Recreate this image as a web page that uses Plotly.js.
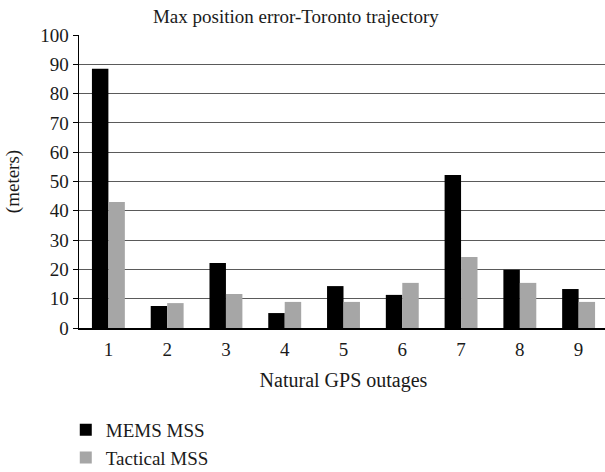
<!DOCTYPE html>
<html>
<head>
<meta charset="utf-8">
<script src="https://cdn.plot.ly/plotly-3.0.1.min.js"></script>
<style>
html, body { margin: 0; padding: 0; overflow: hidden; background: #fff; }
#chart { width: 610px; height: 472px; }
</style>
</head>
<body>
<div id="chart"></div>
<script>
const categories = ['1', '2', '3', '4', '5', '6', '7', '8', '9'];
const memsMSS = [88.5, 7.5, 22.2, 5.1, 14.3, 11.3, 52.2, 19.9, 13.3];
const tacticalMSS = [43.0, 8.5, 11.6, 8.9, 8.9, 15.4, 24.2, 15.4, 8.9];
const yTicks = [0, 10, 20, 30, 40, 50, 60, 70, 80, 90, 100];

const FONT = "'Liberation Serif', 'Times New Roman', serif";
const TXT = '#1a1a1a';

const traces = [
  { type: 'bar', name: 'MEMS MSS', x: categories, y: memsMSS,
    marker: { color: '#000000', line: { width: 0 } }, legendgroup: 'a' },
  { type: 'bar', name: 'Tactical MSS', x: categories, y: tacticalMSS,
    marker: { color: '#a6a6a6', line: { width: 0 } }, legendgroup: 'b' }
];

const layout = {
  width: 610, height: 472,
  margin: { l: 79, r: 2, t: 35, b: 144, pad: 0, autoexpand: false },
  paper_bgcolor: '#ffffff', plot_bgcolor: '#ffffff',
  font: { family: FONT, size: 19, color: TXT },
  title: { text: 'Max position error-Toronto trajectory', x: 0.485, xanchor: 'center', y: 0.966, yanchor: 'middle',
           font: { family: FONT, size: 19, color: TXT } },
  barmode: 'group', bargap: 0.44, bargroupgap: 0,
  showlegend: true,
  legend: { orientation: 'v', xref: 'paper', yref: 'paper', x: -0.025, xanchor: 'left', y: -0.283, yanchor: 'top',
            traceorder: 'grouped', tracegroupgap: 0, font: { family: FONT, size: 19, color: TXT },
            bgcolor: 'rgba(0,0,0,0)' },
  xaxis: {
    type: 'category', showgrid: false, showline: true, linecolor: '#000', linewidth: 1.5,
    ticks: 'outside', ticklen: 4, tickcolor: 'rgba(0,0,0,0)',
    tickfont: { family: FONT, size: 19, color: TXT }, automargin: false,
    title: { text: 'Natural GPS outages', standoff: 13, font: { family: FONT, size: 20, color: TXT } },
    zeroline: false, fixedrange: true
  },
  yaxis: {
    range: [0, 100], tickvals: yTicks, ticktext: yTicks.map(String), automargin: false,
    showgrid: true, gridcolor: '#5a5a5a', gridwidth: 1,
    showline: true, linecolor: '#000', linewidth: 1.5,
    ticks: 'outside', ticklen: 5, tickcolor: '#000', tickwidth: 1,
    tickfont: { family: FONT, size: 19, color: TXT },
    title: { text: '(meters)', standoff: 15, font: { family: FONT, size: 19, color: TXT } },
    zeroline: false, fixedrange: true
  }
};

Plotly.newPlot('chart', traces, layout, { displayModeBar: false, staticPlot: true });
</script>
</body>
</html>
